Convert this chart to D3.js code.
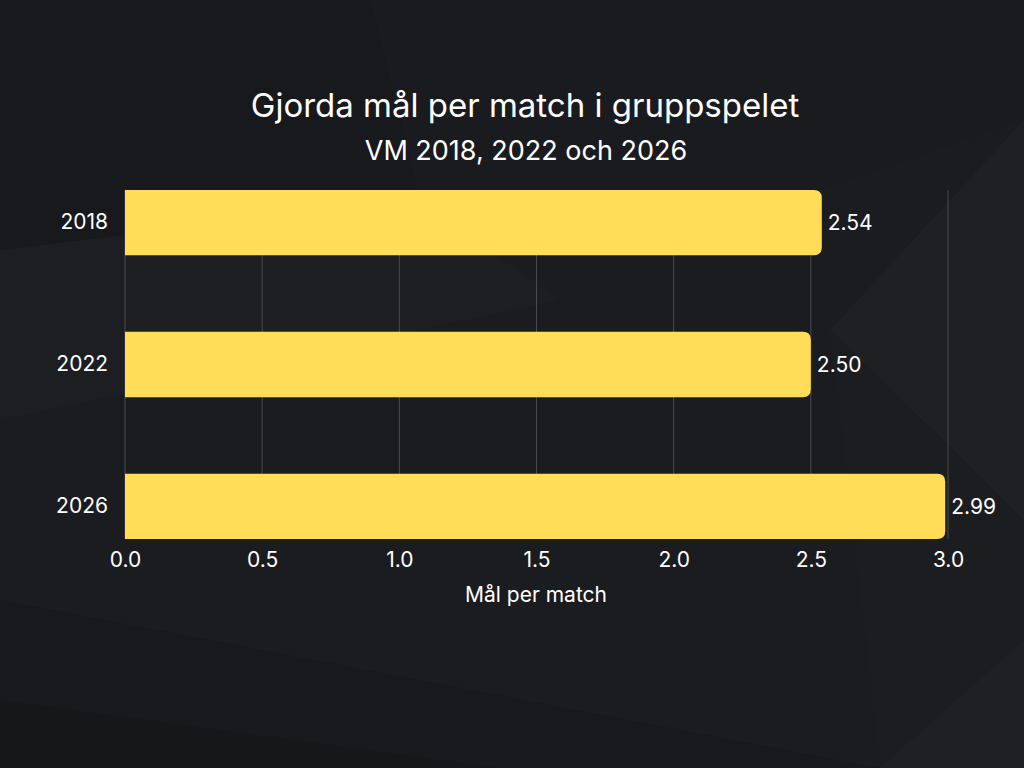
<!DOCTYPE html>
<html><head><meta charset="utf-8">
<script src="https://cdn.jsdelivr.net/npm/d3@7"></script>
<style>html,body{margin:0;padding:0;background:#1b1c20;}svg{display:block;font-family:Inter,"DejaVu Sans",sans-serif;}</style>
</head><body>
<svg id="c" width="1024" height="768"></svg>
<script>
const categories = ["2018", "2022", "2026"];
const values = [2.54, 2.50, 2.99];
const xTicks = [0, 0.5, 1.0, 1.5, 2.0, 2.5, 3.0];
const title = "Gjorda mål per match i gruppspelet";
const subtitle = "VM 2018, 2022 och 2026";
const xLabel = "Mål per match";

const svg = d3.select("#c");
const W = 1024, H = 768;
// background with subtle polygons
svg.append("rect").attr("width", W).attr("height", H).attr("fill", "#1b1c20");
const polys = [
  {p:[[0,0],[370,0],[420,200],[0,250]], f:"#18191c"},
  {p:[[370,0],[1024,0],[1024,120],[700,230],[420,200]], f:"#1a1b1f"},
  {p:[[0,250],[420,200],[560,300],[0,420]], f:"#1d1e22"},
  {p:[[1024,120],[1024,520],[830,330]], f:"#1f2024"},
  {p:[[830,330],[1024,520],[1024,768],[880,768]], f:"#1c1d21"},
  {p:[[0,700],[500,768],[0,768]], f:"#161719"},
  {p:[[0,600],[880,768],[500,768],[0,700]], f:"#18191c"},
  {p:[[1024,640],[1024,768],[880,768]], f:"#1f2024"}
];
svg.append("g").selectAll("polygon").data(polys).join("polygon")
  .attr("points", d => d.p.map(q => q.join(",")).join(" "))
  .attr("fill", d => d.f);

const x = d3.scaleLinear().domain([0, 3]).range([125, 948]);
const y = d3.scaleBand().domain(categories).range([190, 539]).paddingInner(0.54).paddingOuter(0);

// gridlines
svg.append("g").selectAll("line").data(xTicks).join("line")
  .attr("x1", d => x(d)).attr("x2", d => x(d))
  .attr("y1", 190).attr("y2", 539)
  .attr("stroke", "#4a4b50").attr("stroke-width", 1);

// bars with rounded right corners
const r = 8;
svg.append("g").selectAll("path").data(values).join("path")
  .attr("d", (v, i) => {
    const x0 = x(0), x1 = x(v), y0 = y(categories[i]), h = y.bandwidth();
    return `M${x0},${y0}H${x1 - r}Q${x1},${y0} ${x1},${y0 + r}V${y0 + h - r}Q${x1},${y0 + h} ${x1 - r},${y0 + h}H${x0}Z`;
  })
  .attr("fill", "#ffdd59");

// value labels
svg.append("g").selectAll("text").data(values).join("text")
  .attr("x", v => x(v) + 6)
  .attr("y", (v, i) => y(categories[i]) + y.bandwidth() / 2)
  .attr("dy", "0.35em")
  .attr("fill", "#ffffff").attr("font-size", 21)
  .text(v => v.toFixed(2));

// y axis labels
const yAxis = d3.axisLeft(y).tickSize(0).tickPadding(17);
const gy = svg.append("g").attr("transform", "translate(125,0)").call(yAxis);
gy.select(".domain").remove();
gy.selectAll("text").attr("fill", "#ffffff").attr("font-size", 21).attr("font-family", "Inter");

// x axis labels
const xAxis = d3.axisBottom(x).tickValues(xTicks).tickFormat(d3.format(".1f")).tickSize(0).tickPadding(13);
const gx = svg.append("g").attr("transform", "translate(0,539)").call(xAxis);
gx.select(".domain").remove();
gx.selectAll("text").attr("fill", "#ffffff").attr("font-size", 21).attr("font-family", "Inter");

svg.append("text").attr("x", 536).attr("y", 602).attr("text-anchor", "middle")
  .attr("fill", "#ffffff").attr("font-size", 21).text(xLabel);

svg.append("text").attr("x", 525).attr("y", 117).attr("text-anchor", "middle")
  .attr("fill", "#ffffff").attr("font-size", 33).text(title);
svg.append("text").attr("x", 526).attr("y", 160).attr("text-anchor", "middle")
  .attr("fill", "#ffffff").attr("font-size", 27).text(subtitle);
</script>
</body></html>
